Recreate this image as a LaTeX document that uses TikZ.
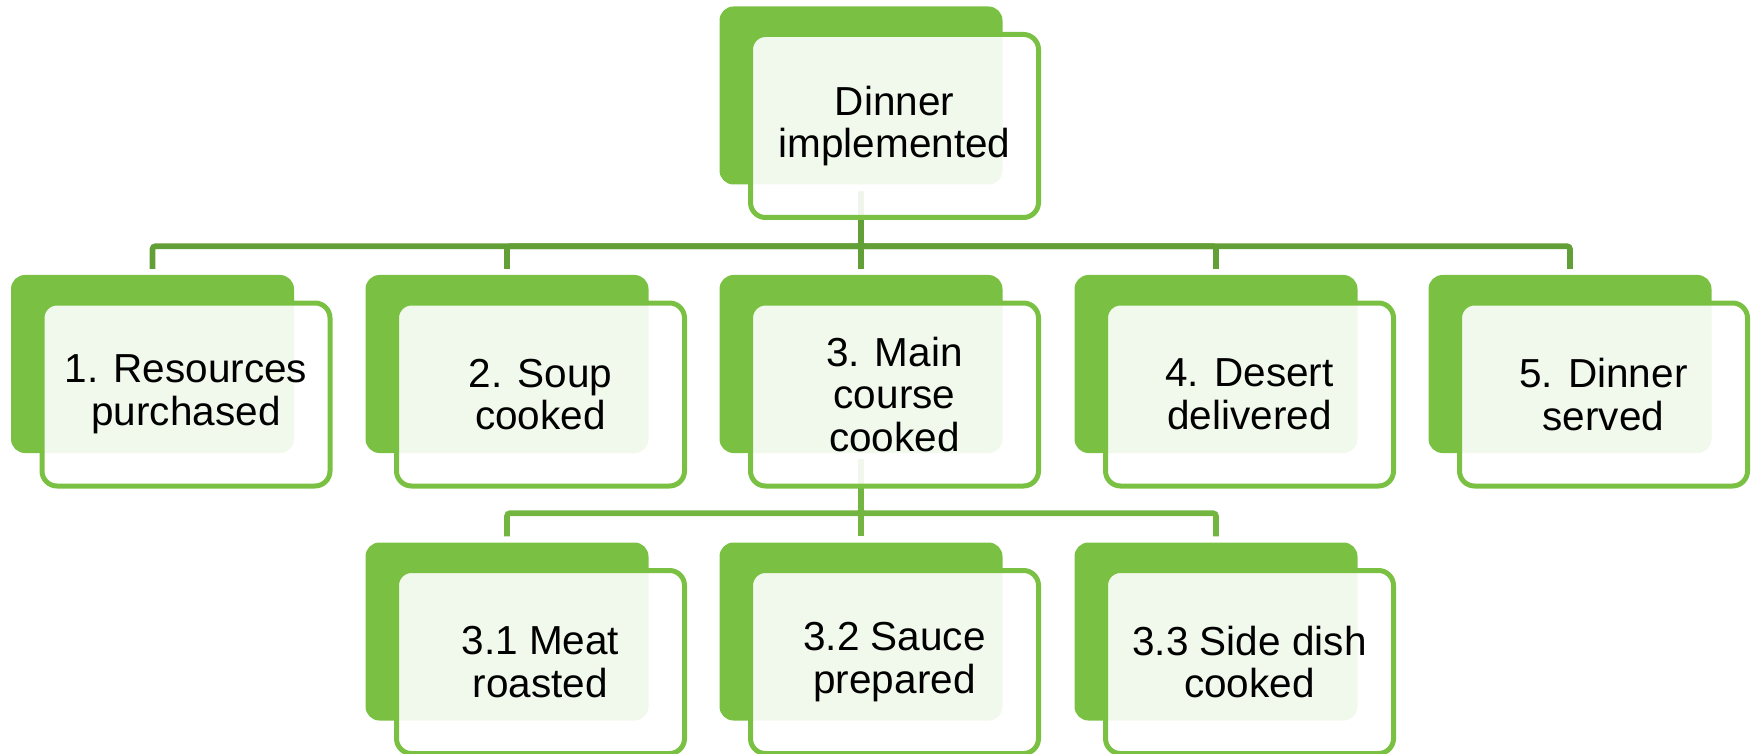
\documentclass[tikz,border=0pt]{standalone}
\usepackage{fontspec}
\setmainfont{Liberation Sans}
\definecolor{boxgreen}{HTML}{7AC143}
\definecolor{linegreenA}{HTML}{629F36}
\definecolor{linegreenB}{HTML}{72B541}
\tikzset{
 back/.style={fill=boxgreen, rounded corners=14pt, minimum width=283pt, minimum height=178pt, inner sep=0pt},
 front/.style={draw=boxgreen, line width=5pt, fill=white, fill opacity=0.9, text opacity=1, rounded corners=15pt, minimum width=288pt, minimum height=183pt, inner sep=0pt, align=center, font=\fontsize{40.5}{42.5}\selectfont},
 connA/.style={draw=linegreenA, line width=5.7pt, rounded corners=3pt},
 connB/.style={draw=linegreenB, line width=5.7pt, rounded corners=3pt},
 fshift/.style={shift={(33.5,30.5)}}
}
\begin{document}
\begin{tikzpicture}[x=1pt,y=-1pt]
\useasboundingbox (0,0) rectangle (1757,754);
% back boxes
\node[back] (g0) at (861,95.5) {};
\node[back] (g1) at (152.5,364) {};
\node[back] (g2) at (507,364) {};
\node[back] (g3) at (861,364) {};
\node[back] (g4) at (1216,364) {};
\node[back] (g5) at (1570,364) {};
\node[back] (h1) at (507,631.5) {};
\node[back] (h2) at (861,631.5) {};
\node[back] (h3) at (1216,631.5) {};
% connectors
\foreach \c in {g1,g2,g3,g4,g5}{
  \draw[connA] ([yshift=-7pt]g0.south) -- ++(0,54.5) -| ([yshift=6pt]\c.north);
}
\foreach \c in {h1,h2,h3}{
  \draw[connB] ([yshift=-6pt]g3.south) -- ++(0,54) -| ([yshift=6pt]\c.north);
}
% front boxes
\node[front] (f0) at ([fshift]g0.center) {Dinner\\implemented};
\node[front] (f1) at ([fshift]g1.center) {1. Resources\\purchased};
\node[front] (f2) at ([fshift]g2.center) {2. Soup\\cooked};
\node[front] (f3) at ([fshift]g3.center) {3. Main\\course\\cooked};
\node[front] (f4) at ([fshift]g4.center) {4. Desert\\delivered};
\node[front] (f5) at ([fshift]g5.center) {5. Dinner\\served};
\node[front] (k1) at ([fshift]h1.center) {3.1 Meat\\roasted};
\node[front] (k2) at ([fshift]h2.center) {3.2 Sauce\\prepared};
\node[front] (k3) at ([fshift]h3.center) {3.3 Side dish\\cooked};
\end{tikzpicture}
\end{document}
